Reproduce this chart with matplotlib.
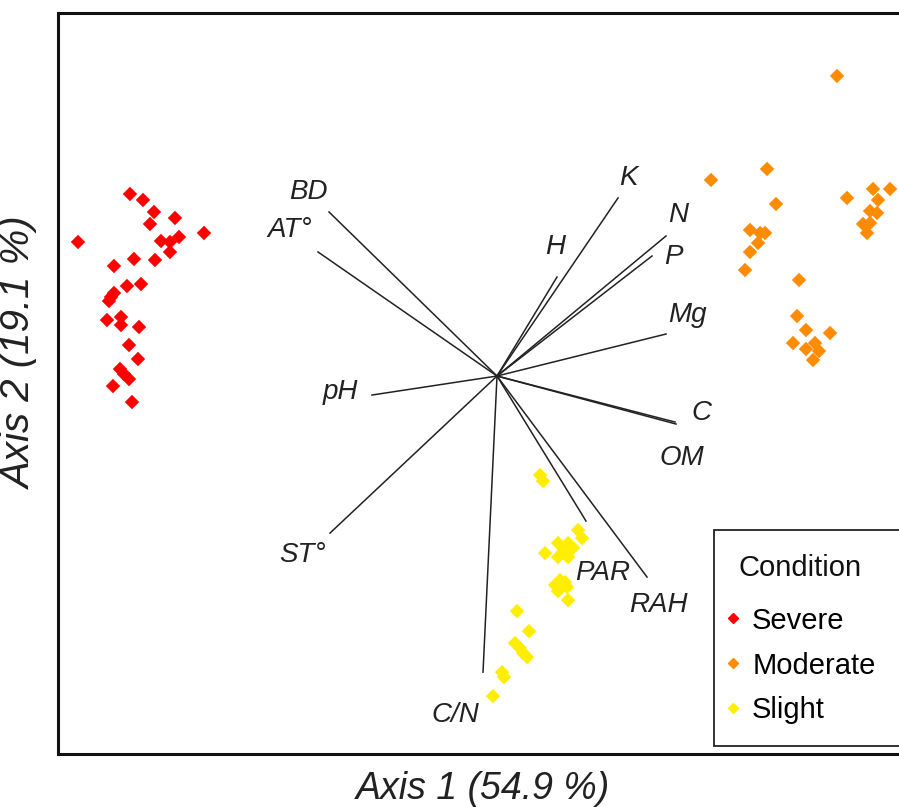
#-*- coding: utf-8 -*-

import numpy as np
import matplotlib
matplotlib.use('Agg')
import matplotlib.pyplot as plt
from matplotlib.lines import Line2D
from matplotlib.patches import Rectangle

plt.rcParams['font.family'] = ['Liberation Sans', 'DejaVu Sans']

# site scores (axis 1, axis 2)
severe_x = [-3.67, -3.54, -3.43, -3.22, -3.47, -2.93, -4.19, -3.36, -3.27, -3.18,
            -3.27, -3.63, -3.42, -3.83, -3.56, -3.70, -3.83, -3.86, -3.88, -3.90,
            -3.76, -3.76, -3.58, -3.68, -3.59, -3.77, -3.73, -3.68, -3.84, -3.65]
severe_y = [1.82, 1.76, 1.64, 1.58, 1.52, 1.43, 1.34, 1.35, 1.34, 1.39,
            1.24, 1.17, 1.16, 1.10, 0.92, 0.90, 0.83, 0.79, 0.75, 0.56,
            0.59, 0.51, 0.49, 0.31, 0.17, 0.07, 0.02, -0.03, -0.10, -0.26]

moderate_x = [3.40, 2.70, 2.14, 2.79, 2.53, 2.63, 2.68, 2.61, 2.53, 2.48,
              3.50, 3.76, 3.93, 3.81, 3.73, 3.80, 3.66, 3.73, 3.70, 3.02,
              3.00, 3.09, 3.33, 2.96, 3.18, 3.09, 3.22, 3.16]
moderate_y = [3.00, 2.07, 1.96, 1.72, 1.46, 1.43, 1.43, 1.33, 1.24, 1.06,
              1.78, 1.87, 1.87, 1.76, 1.65, 1.63, 1.52, 1.53, 1.43, 0.96,
              0.60, 0.46, 0.43, 0.33, 0.33, 0.27, 0.25, 0.16]

slight_x = [0.43, 0.46, 0.81, 0.85, 0.61, 0.71, 0.76, 0.48, 0.66, 0.61,
            0.71, 0.63, 0.68, 0.58, 0.70, 0.61, 0.71, 0.20, 0.32, 0.18,
            0.23, 0.26, 0.30, 0.05, 0.07, -0.04]
slight_y = [-0.99, -1.05, -1.54, -1.62, -1.67, -1.67, -1.72, -1.77, -1.76, -1.81,
            -1.81, -2.04, -2.06, -2.09, -2.11, -2.15, -2.24, -2.35, -2.55, -2.67,
            -2.72, -2.77, -2.81, -2.96, -3.01, -3.20]

# environmental vectors
var_names = ['BD', 'AT°', 'pH', 'ST°', 'C/N', 'K', 'H', 'N', 'P', 'Mg', 'C', 'OM', 'PAR', 'RAH']
var_x = [-1.68, -1.79, -1.25, -1.67, -0.14, 1.21, 0.60, 1.69, 1.55, 1.69, 1.78, 1.79, 0.89, 1.50]
var_y = [1.64, 1.24, -0.19, -1.57, -2.96, 1.78, 0.99, 1.40, 1.20, 0.42, -0.46, -0.48, -1.45, -2.01]

# label offsets from arrow tip, in pixels
label_off = {'BD': (-21, 20), 'AT°': (-28, 22), 'pH': (-32, 3), 'ST°': (-27, -22),
             'C/N': (-28, -43), 'K': (10, 20), 'H': (-2, 30), 'N': (12, 21),
             'P': (21, -1), 'Mg': (21, 19), 'C': (26, 9), 'OM': (6, -34),
             'PAR': (17, -52), 'RAH': (11, -28)}

groups = ['Severe', 'Moderate', 'Slight']
colors = ['#FF0000', '#FF8C00', '#FFEE00']

fig = plt.figure(figsize=(8.99, 8.07), dpi=100)
ax = fig.add_axes([0.0645, 0.0655, 0.945, 0.9185])

for x, y, c in zip([severe_x, moderate_x, slight_x], [severe_y, moderate_y, slight_y], colors):
    ax.scatter(x, y, marker='D', s=54, color=c, edgecolors='none', zorder=3)

for name, vx, vy in zip(var_names, var_x, var_y):
    ax.plot([0, vx], [0, vy], color='#222222', lw=1.1, zorder=2)
    ax.annotate(name, (vx, vy), xytext=label_off[name], textcoords='offset pixels',
                ha='center', va='center', fontsize=20, style='italic', color='#222222')

ax.set_xlim(-4.39, 4.105)
ax.set_ylim(-3.78, 3.63)
ax.set_xticks([]), ax.set_yticks([])
for sp in ax.spines.values():
    sp.set_linewidth(2.2)
    sp.set_color('#111111')

ax.set_xlabel('Axis 1 (54.9 %)', fontsize=27, style='italic', labelpad=12, color='#222222')
fig.text(0.022, 0.5626, 'Axis 2 (19.1 %)', rotation=90, ha='center', va='center',
         fontsize=29, style='italic', color='#222222')

# legend: frame drawn separately so the right side runs off the picture
handles = [Line2D([], [], marker='D', ls='none', color=c, markersize=5.5) for c in colors]
leg = ax.legend(handles, groups, title='Condition', loc='upper left',
                bbox_to_anchor=(0.757, 0.302), fontsize=21, title_fontsize=21,
                frameon=False, handlelength=0.6, handletextpad=0.35, labelspacing=0.58,
                borderpad=0.8, borderaxespad=0)
leg.get_title().set_color('#111111')
leg._legend_box.sep = 18
ax.add_patch(Rectangle((0.772, 0.0108), 0.3, 0.2915, transform=ax.transAxes,
                       facecolor='white', edgecolor='#222222', lw=1.3, zorder=4))
leg.set_zorder(5)

plt.savefig('out.png', dpi=100)
